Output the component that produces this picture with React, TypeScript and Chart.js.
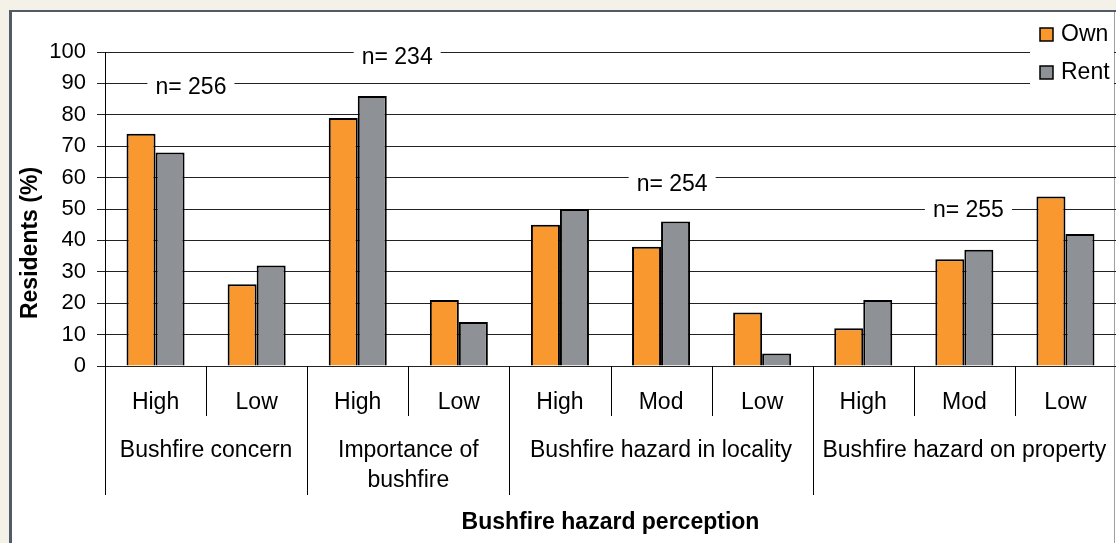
import { useEffect, useRef } from "react";
import { Chart, registerables } from "chart.js";

Chart.register(...registerables);

// ---------- data ----------
const subLabels = ["High", "Low", "High", "Low", "High", "Mod", "Low", "High", "Mod", "Low"];
const groupLabels = [
  ["Bushfire concern"],
  ["Importance of", "bushfire"],
  ["Bushfire hazard in locality"],
  ["Bushfire hazard on property"],
];
const groupSizes = [2, 2, 3, 3];
const ownValues = [74, 26, 79, 21, 45, 38, 17, 12, 34, 54];
const rentValues = [68, 32, 86, 14, 50, 46, 4, 21, 37, 42];
const seriesNames = ["Own", "Rent"];
const sampleLabels = ["n= 256", "n= 234", "n= 254", "n= 255"];
// annotation anchors in data space: category index, value
const sampleCats = [0.35, 2.39, 5.11, 8.04];
const sampleVals = [88.7, 98.1, 57.8, 49.4];
const yMin = 0;
const yMax = 100;
const yStep = 10;
const xTitle = "Bushfire hazard perception";
const yTitle = "Residents (%)";

// ---------- style ----------
const W = 1116;
const H = 543;
const FONT = "'Liberation Sans', Arial, sans-serif";
const ORANGE = "#f8982e";
const GREY = "#8e9195";

const customPlugin = {
  id: "custom",
  beforeDraw(chart: any) {
    const ctx = chart.ctx;
    ctx.save();
    ctx.fillStyle = "#f4f1e9";
    ctx.fillRect(0, 0, W, H);
    ctx.fillStyle = "#ffffff";
    ctx.fillRect(12, 12, W - 12, H - 12);
    ctx.fillStyle = "#505b66";
    ctx.fillRect(9, 10, 3, H - 10);
    ctx.fillRect(9, 10, W - 9, 2);
    ctx.fillStyle = "#9aa0a6";
    ctx.fillRect(1114, 12, 1, H - 12);
    ctx.restore();
  },
  afterDraw(chart: any) {
    const ctx = chart.ctx;
    const xs = chart.scales.x;
    const ys = chart.scales.y;
    const area = chart.chartArea;
    const n = subLabels.length;
    const cw = xs.getPixelForValue(1) - xs.getPixelForValue(0);
    const bottom = area.bottom;
    ctx.save();

    // separators
    const groupBounds: number[] = [0];
    let acc = 0;
    for (const s of groupSizes) {
      acc += s;
      groupBounds.push(acc);
    }
    ctx.strokeStyle = "#000";
    ctx.lineWidth = 1;
    for (let i = 0; i <= n; i++) {
      const px = Math.round(xs.getPixelForValue(i) - cw / 2) + 0.5;
      const isGroup = groupBounds.includes(i);
      ctx.beginPath();
      ctx.moveTo(px, bottom);
      ctx.lineTo(px, isGroup ? 495 : 416);
      ctx.stroke();
    }

    // sub labels
    ctx.fillStyle = "#000";
    ctx.textAlign = "center";
    ctx.textBaseline = "alphabetic";
    ctx.font = `23px ${FONT}`;
    subLabels.forEach((l, i) => {
      ctx.fillText(l, xs.getPixelForValue(i), 409);
    });

    // group labels
    let start = 0;
    groupLabels.forEach((lines, g) => {
      const end = start + groupSizes[g] - 1;
      const cx = (xs.getPixelForValue(start) + xs.getPixelForValue(end)) / 2;
      lines.forEach((ln, k) => ctx.fillText(ln, cx, 457 + k * 30));
      start += groupSizes[g];
    });

    // sample size annotations
    ctx.font = `23px ${FONT}`;
    ctx.textBaseline = "middle";
    sampleLabels.forEach((t, i) => {
      const cx = xs.getPixelForValue(sampleCats[i]);
      const cy = ys.getPixelForValue(sampleVals[i]);
      const w = ctx.measureText(t).width + 16;
      ctx.fillStyle = "#fff";
      ctx.fillRect(cx - w / 2, cy - 13, w, 26);
      ctx.fillStyle = "#000";
      ctx.fillText(t, cx, cy);
    });

    // legend
    ctx.fillStyle = "#fff";
    ctx.fillRect(1030, 13, W - 1030 - 2, 88);
    const colors = [ORANGE, GREY];
    const legY = [34, 72];
    seriesNames.forEach((name, i) => {
      ctx.fillStyle = colors[i];
      ctx.fillRect(1040, legY[i] - 6, 13, 13);
      ctx.strokeStyle = "#000";
      ctx.lineWidth = 1.5;
      ctx.strokeRect(1040, legY[i] - 6, 13, 13);
      ctx.fillStyle = "#000";
      ctx.textAlign = "left";
      ctx.textBaseline = "middle";
      ctx.font = `23px ${FONT}`;
      ctx.fillText(name, 1061, legY[i] + 1);
    });

    // axis titles
    ctx.font = `bold 23px ${FONT}`;
    ctx.textAlign = "center";
    ctx.textBaseline = "alphabetic";
    ctx.fillText(xTitle, (area.left + area.right) / 2, 529);

    ctx.translate(31, 243);
    ctx.rotate(-Math.PI / 2);
    ctx.textBaseline = "middle";
    ctx.fillText(yTitle, 0, 0);
    ctx.restore();
  },
};

export default function App() {
  const ref = useRef<HTMLCanvasElement | null>(null);
  useEffect(() => {
    document.body.style.margin = "0";
    const canvas = ref.current!;
    const chart = new Chart(canvas, {
      type: "bar",
      data: {
        labels: subLabels,
        datasets: [
          {
            label: seriesNames[0],
            data: ownValues,
            backgroundColor: ORANGE,
            borderColor: "#000",
            borderWidth: 2,
          },
          {
            label: seriesNames[1],
            data: rentValues,
            backgroundColor: GREY,
            borderColor: "#000",
            borderWidth: 2,
          },
        ],
      },
      options: {
        responsive: false,
        animation: false,
        devicePixelRatio: 1,
        layout: { padding: { left: 0, top: 52, right: 0, bottom: 177 } },
        datasets: { bar: { categoryPercentage: 0.574, barPercentage: 1 } },
        plugins: {
          legend: { display: false },
          tooltip: { enabled: false },
        },
        scales: {
          x: { display: false },
          y: {
            min: yMin,
            max: yMax,
            afterFit: (s: any) => {
              s.width = 105;
            },
            ticks: {
              stepSize: yStep,
              color: "#000",
              padding: 11,
              font: { family: FONT, size: 22 },
            },
            grid: { color: "#222", lineWidth: 1, tickLength: 8, drawTicks: true },
            border: { display: true, color: "#000", width: 1 },
          },
        },
      },
      plugins: [customPlugin],
    });
    return () => chart.destroy();
  }, []);
  return (
    <canvas
      ref={ref}
      width={W}
      height={H}
      style={{ display: "block", width: W, height: H }}
    />
  );
}
